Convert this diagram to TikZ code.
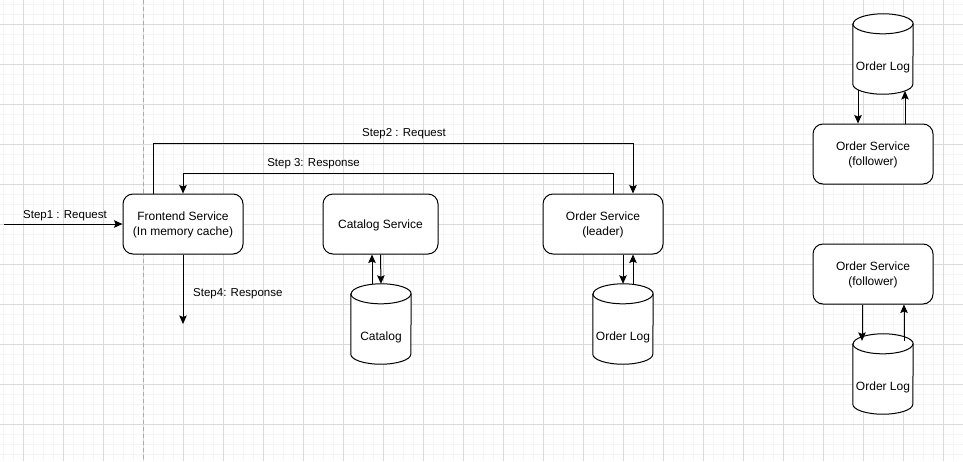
\documentclass[tikz,border=0pt]{standalone}
\usepackage{fontspec}
\setmainfont{Liberation Sans}
\usetikzlibrary{arrows.meta}
\definecolor{gridminor}{RGB}{245,245,245}
\definecolor{gridmajor}{RGB}{218,218,218}
\definecolor{pagebreak}{RGB}{170,170,170}
\newcommand\cylshape[1]{%
  \filldraw[fill=white, line width=1pt] ([yshift=10pt]#1.north west) -- ([yshift=10pt]#1.south west)
    arc[start angle=180, end angle=360, x radius=30pt, y radius=10pt]
    -- ([yshift=10pt]#1.north east)
    arc[start angle=0, end angle=180, x radius=30pt, y radius=10pt] -- cycle;
  \draw[line width=1pt] ([yshift=10pt]#1.north west)
    arc[start angle=180, end angle=360, x radius=30pt, y radius=10pt];
}
\begin{document}
\begin{tikzpicture}[x=1pt,y=-1pt,
  svc/.style={draw, rounded corners=10pt, line width=1pt, minimum width=120pt, minimum height=60pt, align=center, font=\fontsize{12}{15}\selectfont, inner sep=0pt, fill=white, text depth=-2pt},
  db/.style={minimum width=60pt, minimum height=60pt, inner sep=0pt, font=\fontsize{12}{15}\selectfont},
  lbl/.style={font=\fontsize{11.5}{13}\selectfont, inner sep=1pt},
  conn/.style={line width=1pt, -{Stealth[length=8.5pt,width=7.5pt,inset=1.5pt]}},
]
\useasboundingbox (0,0) rectangle (963,461);
\fill[white] (0,0) rectangle (963,461);
% grid
\foreach \x in {3,13,...,963} \draw[gridminor, line width=0.8pt] (\x,0) -- (\x,461);
\foreach \y in {4,14,...,461} \draw[gridminor, line width=0.8pt] (0,\y) -- (963,\y);
\foreach \x in {23,63,...,963} \draw[gridmajor, line width=0.8pt] (\x,0) -- (\x,461);
\foreach \y in {24,64,...,461} \draw[gridmajor, line width=0.8pt] (0,\y) -- (963,\y);
\draw[pagebreak, dash pattern=on 4pt off 3pt, line width=0.8pt] (143,0) -- (143,461);

% services
\node[svc] (fe) at (183,224) {Frontend Service\\(In memory cache)};
\node[svc, minimum width=115pt] (catsvc) at (380.5,224) {Catalog Service};
\node[svc] (ord) at (603,224) {Order Service\\(leader)};
\node[svc] (fol1) at (873,154) {Order Service\\(follower)};
\node[svc] (fol2) at (873,274) {Order Service\\(follower)};

% databases
\node[db] (catdb) at (381,334) {};
\cylshape{catdb}
\node[db] at (381,337) {Catalog};
\node[db] (orddb) at (623,334) {};
\cylshape{orddb}
\node[db] at (623,337) {Order Log};
\node[db] (log1) at (883,64) {};
\cylshape{log1}
\node[db] at (883,67) {Order Log};
\node[db] (log2) at (883,384) {};
\cylshape{log2}
\node[db] at (883,387) {Order Log};

% step connectors
\coordinate (in) at (4,224);
\draw[conn] (in) -- (fe.west);
\node[lbl] at (65,216) {Step1 : Request};
\draw[conn] ([xshift=-30pt]fe.north) -- ++(0,-50) -| ([xshift=30pt]ord.north);
\node[lbl] at (404,134) {Step2 : Request};
\draw[conn] ([xshift=10pt]ord.north) -- ++(0,-20) -| (fe.north);
\node[lbl] at (313.5,164) {Step 3: Response};
\coordinate (out) at (183,324);
\draw[conn] (fe.south) -- (out);
\node[lbl, anchor=west] at (192,294) {Step4: Response};

% catalog arrows
\draw[conn] ([xshift=-9pt,yshift=19.5pt]catdb.north) -- ([xshift=-8.5pt]catsvc.south);
\draw[conn] (catsvc.south) -- ([yshift=20pt]catdb.north);
% order log arrows
\draw[conn] ([xshift=20pt]ord.south) -- ([yshift=20pt]orddb.north);
\draw[conn] ([xshift=10pt,yshift=19.5pt]orddb.north) -- ([xshift=30pt]ord.south);
% follower 1
\draw[conn] ([xshift=-25pt,yshift=4.5pt]log1.south) -- ([xshift=-15pt]fol1.north);
\draw[conn] ([xshift=32pt]fol1.north) -- ([xshift=22pt,yshift=3.2pt]log1.south);
% follower 2
\draw[conn] ([xshift=-11pt]fol2.south) -- ([xshift=-21pt,yshift=12.9pt]log2.north);
\draw[conn] ([xshift=21pt,yshift=12.9pt]log2.north) -- ([xshift=31pt]fol2.south);
\end{tikzpicture}
\end{document}
